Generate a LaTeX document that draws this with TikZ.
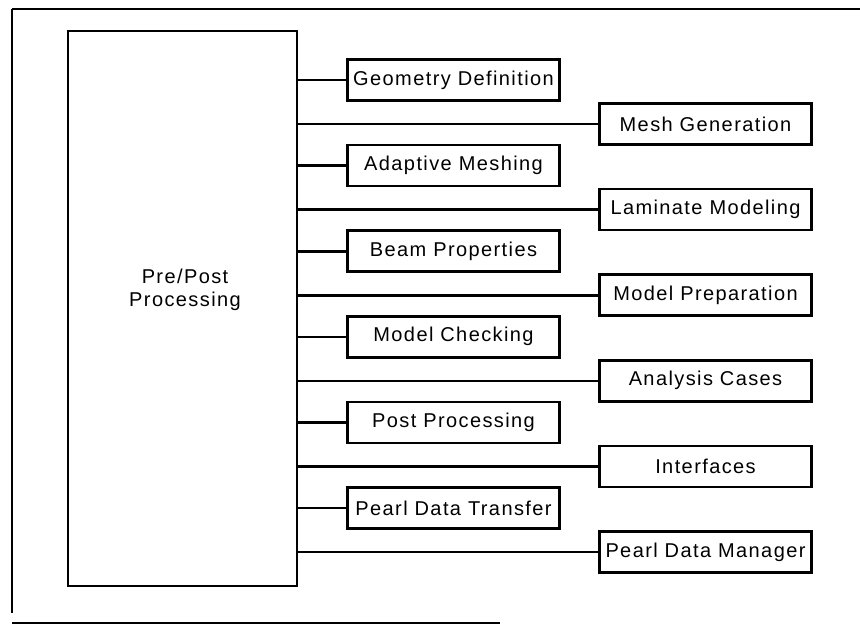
\documentclass[tikz,border=0pt]{standalone}
\usepackage{fontspec}
\setmainfont{Liberation Sans}[LetterSpace=7]
\usetikzlibrary{positioning}
\tikzset{
    % box for one task
    task/.style={
        rectangle,
        draw=black, line width=1.3pt,
        minimum width=106pt,
        minimum height=20.5pt,
        inner sep=1pt,
        font=\fontsize{10}{12}\selectfont,
        text centered
    },
    % big processing block
    block/.style={
        rectangle,
        draw=black, line width=1.3pt,
        minimum width=114.5pt,
        minimum height=277.5pt
    },
    % branch lines
    pil/.style={-, line width=1.3pt},
    % page frame
    frame/.style={line width=1.3pt},
    thinframe/.style={line width=0.8pt}
}
\begin{document}
\begin{tikzpicture}[x=0.5pt,y=-0.5pt,node distance=21pt]
\useasboundingbox (0,0) rectangle (860,626);
%frame
\draw[frame] (860,9) -- (12,9);
\draw[thinframe] (12,9) -- (12,613);
\draw[frame] (12,623) -- (500,623);
%nodes
\node[block] (pp) at (182.5,308.5) {};
\node[align=center, font=\fontsize{10}{11.5}\selectfont] (pptext) at (185,290) {Pre/Post\\Processing};
\node[task] (geo) at (453.5,80) {Geometry Definition};
\node[task, below=of geo] (adapt) {Adaptive Meshing};
\node[task, below=of adapt] (beam) {Beam Properties};
\node[task, below=of beam] (check) {Model Checking};
\node[task, below=of check] (post) {Post Processing};
\node[task, below=of post] (transfer) {Pearl Data Transfer};
\node[task] (mesh) at (705.5,124) {Mesh Generation};
\node[task, below=of mesh] (lam) {Laminate Modeling};
\node[task, below=of lam] (prep) {Model Preparation};
\node[task, below=of prep] (cases) {Analysis Cases};
\node[task, below=of cases] (inter) {Interfaces};
\node[task, below=of inter] (manager) {Pearl Data Manager};
%branches
\draw[pil] (pp.east |- geo.west) -- (geo.west);
\draw[pil] (pp.east |- mesh.west) -- (mesh.west);
\draw[pil] (pp.east |- adapt.west) -- (adapt.west);
\draw[pil] (pp.east |- lam.west) -- (lam.west);
\draw[pil] (pp.east |- beam.west) -- (beam.west);
\draw[pil] (pp.east |- prep.west) -- (prep.west);
\draw[pil] (pp.east |- check.west) -- (check.west);
\draw[pil] (pp.east |- cases.west) -- (cases.west);
\draw[pil] (pp.east |- post.west) -- (post.west);
\draw[pil] (pp.east |- inter.west) -- (inter.west);
\draw[pil] (pp.east |- transfer.west) -- (transfer.west);
\draw[pil] (pp.east |- manager.west) -- (manager.west);
\end{tikzpicture}
\end{document}
